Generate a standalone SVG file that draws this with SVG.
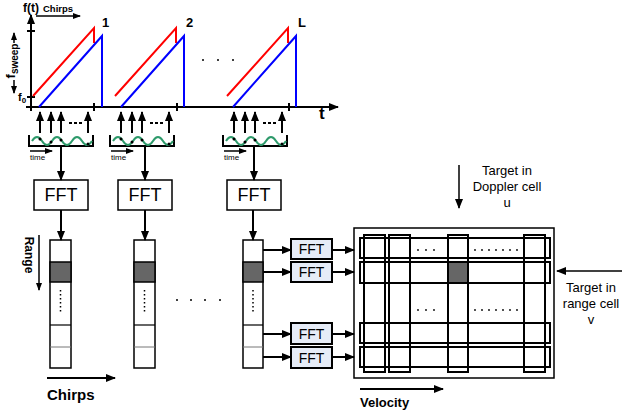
<svg xmlns="http://www.w3.org/2000/svg" width="622" height="412" viewBox="0 0 622 412">
<defs>
<marker id="ah" markerUnits="userSpaceOnUse" markerWidth="10" markerHeight="8" refX="9" refY="4" orient="auto-start-reverse"><path d="M0,0 L10,4 L0,8 z" fill="#000"/></marker>
<marker id="as" markerUnits="userSpaceOnUse" markerWidth="8" markerHeight="6" refX="7" refY="3" orient="auto-start-reverse"><path d="M0,0 L8,3 L0,6 z" fill="#000"/></marker>
<g id="samp">
<path d="M0,0 V11 H64 V0" fill="none" stroke="#000" stroke-width="2"/>
<path d="M3,6 q5,-8 10,0 t10,0 t10,0 t10,0 t10,0 t10,0" fill="none" stroke="#2e9a6b" stroke-width="2"/>
<line x1="11" y1="-2" x2="11" y2="-23" class="ln" marker-end="url(#ah)"/>
<line x1="22" y1="-2" x2="22" y2="-23" class="ln" marker-end="url(#ah)"/>
<line x1="32" y1="-2" x2="32" y2="-23" class="ln" marker-end="url(#ah)"/>
<line x1="59" y1="-2" x2="59" y2="-23" class="ln" marker-end="url(#ah)"/>
<line x1="40" y1="-12" x2="54" y2="-12" stroke="#000" stroke-width="2" stroke-dasharray="3,2"/>
<circle cx="11" cy="4" r="1.5" fill="#000"/>
<circle cx="22" cy="7" r="1.5" fill="#000"/>
<circle cx="32" cy="5" r="1.5" fill="#000"/>
<circle cx="59" cy="9" r="1.5" fill="#000"/>
<line x1="1" y1="16" x2="23" y2="16" stroke="#000" stroke-width="1.5" marker-end="url(#as)"/>
<text x="1" y="25" font-family="Liberation Sans, Arial, sans-serif" font-size="8">time</text>
</g>
</defs>
<style>
.ln{stroke:#000;stroke-width:2;fill:none}
.red{stroke:#f00;stroke-width:2;fill:none}
.blue{stroke:#00f;stroke-width:2;fill:none}
.t{font-family:"Liberation Sans",Arial,sans-serif;fill:#000}
.b{font-weight:bold}
.box{fill:#fff;stroke:#000;stroke-width:1.5}
.sbox{fill:#e6ecf7;stroke:#000;stroke-width:2}
.cell{fill:#fff;stroke:#000;stroke-width:1.5}
.mx{fill:none;stroke:#000;stroke-width:2}
</style>

<g id="chirp-plot">
<line x1="31" y1="111" x2="31" y2="15" class="ln" marker-end="url(#ah)"/>
<line x1="26" y1="107" x2="338" y2="107" class="ln" marker-end="url(#ah)"/>
<line x1="27" y1="31" x2="35" y2="31" class="ln"/>
<line x1="27" y1="97" x2="35" y2="97" class="ln"/>
<line x1="94" y1="103" x2="94" y2="111" class="ln"/>
<line x1="177" y1="103" x2="177" y2="111" class="ln"/>
<line x1="289" y1="103" x2="289" y2="111" class="ln"/>
<text x="23" y="12" class="t b" font-size="12">f(t)</text>
<text x="43" y="12" class="t b" font-size="9.5">Chirps</text>
<line x1="36" y1="16" x2="80" y2="16" stroke="#000" stroke-width="1.5" marker-end="url(#as)"/>
<line x1="14" y1="43" x2="14" y2="33" stroke="#000" stroke-width="1.5" marker-end="url(#as)"/>
<line x1="14" y1="80" x2="14" y2="93" stroke="#000" stroke-width="1.5" marker-end="url(#as)"/>
<text transform="translate(15,61) rotate(-90)" text-anchor="middle" class="t b" font-size="13">f<tspan font-size="10" dy="3">sweep</tspan></text>
<text x="18" y="101" class="t b" font-size="11">f<tspan font-size="8" dy="2">0</tspan></text>
<polyline points="33,96 94,28 94,43" class="red"/>
<polyline points="39,107 102,36 102,107" class="blue"/>
<polyline points="115,96 176,28 176,43" class="red"/>
<polyline points="121,107 184,36 184,107" class="blue"/>
<polyline points="227,96 288,28 288,43" class="red"/>
<polyline points="233,107 296,36 296,107" class="blue"/>
<text x="102" y="27" class="t b" font-size="13">1</text>
<text x="186" y="27" class="t b" font-size="13">2</text>
<text x="298" y="27" class="t b" font-size="13">L</text>
<circle cx="203" cy="60" r="1" fill="#000"/>
<circle cx="218" cy="60" r="1" fill="#000"/>
<circle cx="233" cy="60" r="1" fill="#000"/>
<text x="319" y="119" class="t b" font-size="17">t</text>
</g>

<g id="sampling-1"><use href="#samp" x="29" y="135"/></g>
<g id="sampling-2"><use href="#samp" x="110" y="135"/></g>
<g id="sampling-L"><use href="#samp" x="223" y="135"/></g>

<g id="fft-1"><rect x="34" y="180" width="54" height="30" class="box"/><text x="61" y="201" text-anchor="middle" class="t" font-size="18">FFT</text></g>
<g id="fft-2"><rect x="118" y="180" width="54" height="30" class="box"/><text x="145" y="201" text-anchor="middle" class="t" font-size="18">FFT</text></g>
<g id="fft-L"><rect x="227" y="180" width="54" height="30" class="box"/><text x="254" y="201" text-anchor="middle" class="t" font-size="18">FFT</text></g>

<g id="column-1">
<rect x="50" y="240" width="21" height="128" class="cell"/>
<rect x="50" y="262" width="21" height="20" fill="#666" stroke="#000" stroke-width="1.5"/>
<line x1="50" y1="325" x2="71" y2="325" stroke="#000" stroke-width="1.2"/>
<line x1="50" y1="347" x2="71" y2="347" stroke="#777" stroke-width="1"/>
<line x1="60.5" y1="290" x2="60.5" y2="313" stroke="#000" stroke-width="1.5" stroke-dasharray="1.5,2.5"/>
</g>
<g id="column-2">
<rect x="134" y="240" width="21" height="128" class="cell"/>
<rect x="134" y="262" width="21" height="20" fill="#666" stroke="#000" stroke-width="1.5"/>
<line x1="134" y1="325" x2="155" y2="325" stroke="#000" stroke-width="1.2"/>
<line x1="134" y1="347" x2="155" y2="347" stroke="#777" stroke-width="1"/>
<line x1="144.5" y1="290" x2="144.5" y2="313" stroke="#000" stroke-width="1.5" stroke-dasharray="1.5,2.5"/>
</g>
<g id="column-L">
<rect x="243" y="240" width="20" height="128" class="cell"/>
<rect x="243" y="262" width="20" height="20" fill="#666" stroke="#000" stroke-width="1.5"/>
<line x1="243" y1="325" x2="263" y2="325" stroke="#000" stroke-width="1.2"/>
<line x1="243" y1="347" x2="263" y2="347" stroke="#777" stroke-width="1"/>
<line x1="253" y1="290" x2="253" y2="313" stroke="#000" stroke-width="1.5" stroke-dasharray="1.5,2.5"/>
</g>

<g id="range-label">
<text transform="translate(25,255) rotate(90)" text-anchor="middle" class="t b" font-size="12">Range</text>
<line x1="39" y1="235" x2="39" y2="290" stroke="#000" stroke-width="1.5" marker-end="url(#as)"/>
</g>
<g id="chirps-label">
<line x1="47" y1="378" x2="115" y2="378" class="ln" marker-end="url(#ah)"/>
<text x="47" y="400" class="t b" font-size="15">Chirps</text>
</g>
<g id="col-dots">
<circle cx="177" cy="300" r="1" fill="#000"/>
<circle cx="191" cy="300" r="1" fill="#000"/>
<circle cx="205" cy="300" r="1" fill="#000"/>
<circle cx="220" cy="300" r="1" fill="#000"/>
</g>

<g id="doppler-fft-1"><rect x="291" y="239" width="41" height="20" class="sbox"/><text x="311.5" y="254" text-anchor="middle" class="t" font-size="14">FFT</text></g>
<g id="doppler-fft-2"><rect x="291" y="262" width="41" height="20" class="sbox"/><text x="311.5" y="277" text-anchor="middle" class="t" font-size="14">FFT</text></g>
<g id="doppler-fft-3"><rect x="291" y="323" width="41" height="21" class="sbox"/><text x="311.5" y="338.5" text-anchor="middle" class="t" font-size="14">FFT</text></g>
<g id="doppler-fft-4"><rect x="291" y="347" width="41" height="21" class="sbox"/><text x="311.5" y="362.5" text-anchor="middle" class="t" font-size="14">FFT</text></g>

<g id="range-doppler-matrix">
<rect x="354" y="228" width="200" height="150" fill="none" stroke="#000" stroke-width="1.5"/>
<rect x="364" y="235" width="21" height="137" class="mx"/>
<rect x="389" y="235" width="21" height="137" class="mx"/>
<rect x="448" y="235" width="20" height="137" class="mx"/>
<rect x="524" y="235" width="21" height="137" class="mx"/>
<rect x="448" y="262" width="20" height="21" fill="#666" stroke="#000" stroke-width="2"/>
<rect x="360" y="238" width="190" height="20" class="mx"/>
<rect x="360" y="262" width="190" height="21" class="mx"/>
<rect x="360" y="323" width="190" height="20" class="mx"/>
<rect x="360" y="347" width="190" height="20" class="mx"/>
<g fill="#000">
<circle cx="418" cy="250" r="0.9"/><circle cx="426" cy="250" r="0.9"/><circle cx="434" cy="250" r="0.9"/>
<circle cx="475" cy="250" r="0.9"/><circle cx="482" cy="250" r="0.9"/><circle cx="489" cy="250" r="0.9"/><circle cx="496" cy="250" r="0.9"/><circle cx="503" cy="250" r="0.9"/><circle cx="510" cy="250" r="0.9"/><circle cx="517" cy="250" r="0.9"/>
<circle cx="418" cy="310" r="0.9"/><circle cx="426" cy="310" r="0.9"/><circle cx="434" cy="310" r="0.9"/>
<circle cx="475" cy="310" r="0.9"/><circle cx="482" cy="310" r="0.9"/><circle cx="489" cy="310" r="0.9"/><circle cx="496" cy="310" r="0.9"/><circle cx="503" cy="310" r="0.9"/><circle cx="510" cy="310" r="0.9"/><circle cx="517" cy="310" r="0.9"/>
</g>
</g>

<g id="doppler-target-label">
<text x="507" y="175" text-anchor="middle" class="t" font-size="13">Target in</text>
<text x="507" y="191" text-anchor="middle" class="t" font-size="13">Doppler cell</text>
<text x="507" y="207" text-anchor="middle" class="t" font-size="13">u</text>
<line x1="459" y1="165" x2="459" y2="208" stroke="#000" stroke-width="1.5" marker-end="url(#ah)"/>
</g>
<g id="range-target-label">
<text x="591" y="292" text-anchor="middle" class="t" font-size="13">Target in</text>
<text x="591" y="308" text-anchor="middle" class="t" font-size="13">range cell</text>
<text x="591" y="324" text-anchor="middle" class="t" font-size="13">v</text>
<line x1="622" y1="271" x2="557" y2="271" stroke="#000" stroke-width="1.5" marker-end="url(#ah)"/>
</g>
<g id="velocity-label">
<line x1="360" y1="389" x2="443" y2="389" class="ln" marker-end="url(#ah)"/>
<text x="360" y="407" class="t b" font-size="13">Velocity</text>
</g>

<g id="connectors">
<line x1="61" y1="146" x2="61" y2="180" class="ln" marker-end="url(#ah)"/>
<line x1="145" y1="146" x2="145" y2="180" class="ln" marker-end="url(#ah)"/>
<line x1="254" y1="146" x2="254" y2="180" class="ln" marker-end="url(#ah)"/>
<line x1="61" y1="210" x2="61" y2="240" class="ln" marker-end="url(#ah)"/>
<line x1="145" y1="210" x2="145" y2="240" class="ln" marker-end="url(#ah)"/>
<line x1="253" y1="210" x2="253" y2="240" class="ln" marker-end="url(#ah)"/>
<line x1="263" y1="250" x2="291" y2="250" class="ln" marker-end="url(#ah)"/>
<line x1="263" y1="272" x2="291" y2="272" class="ln" marker-end="url(#ah)"/>
<line x1="263" y1="334" x2="291" y2="334" class="ln" marker-end="url(#ah)"/>
<line x1="263" y1="357" x2="291" y2="357" class="ln" marker-end="url(#ah)"/>
<line x1="332" y1="250" x2="354" y2="250" class="ln" marker-end="url(#ah)"/>
<line x1="332" y1="272" x2="354" y2="272" class="ln" marker-end="url(#ah)"/>
<line x1="332" y1="334" x2="354" y2="334" class="ln" marker-end="url(#ah)"/>
<line x1="332" y1="357" x2="354" y2="357" class="ln" marker-end="url(#ah)"/>
</g>
</svg>
